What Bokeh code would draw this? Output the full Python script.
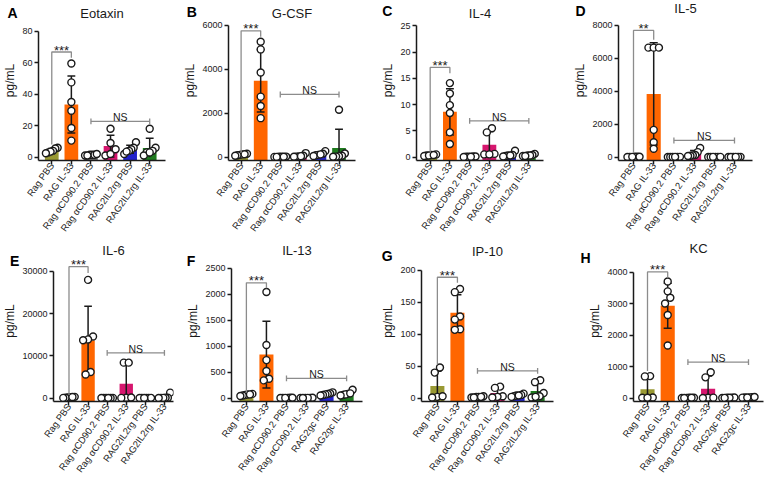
import math
import numpy as np
from bokeh.plotting import figure
from bokeh.layouts import row, column
from bokeh.models import Range1d, FixedTicker, Label, BasicTickFormatter, ColumnDataSource
from bokeh.embed import file_html
from bokeh.resources import INLINE

FONT = "Liberation Sans"
INK = "#1a1a1a"
BRACKET = "#8c8c8c"

# ---------------- data ----------------
cats_il2rg = ["Rag PBS", "RAG IL-33", "Rag \u03b1CD90.2 PBS", "Rag \u03b1CD90.2 IL-33",
              "RAG2IL2rg PBS", "RAG2IL2rg IL-33"]
cats_gc = ["Rag PBS", "RAG IL-33", "Rag \u03b1CD90.2 PBS", "Rag \u03b1CD90.2 IL-33",
           "RAG2gc PBS", "RAG2gc IL-33"]
group_colors = ["#999933", "#FF6600", "#6E6E6E", "#D6166E", "#2222CC", "#1E7A1E"]

titles = ["Eotaxin", "G-CSF", "IL-4", "IL-5", "IL-6", "IL-13", "IP-10", "KC"]
letters = ["A", "B", "C", "D", "E", "F", "G", "H"]
stars = ["***", "***", "***", "**", "***", "***", "***", "***"]

eotaxin_pts = [[6, 5.5, 4, 3, 3.5, 2.5], [59.5, 47.5, 35, 29.5, 18.5, 10.5],
               [1.5, 1.5, 1, 1.5, 1, 2], [18, 9, 1, 2, 5], [9.5, 6, 5, 4, 2, 3.5],
               [18, 6, 4, 3, 1, 3]]
eotaxin_ticks = [0, 20, 40, 60, 80]
eotaxin_sig = [8, 66.8, 63.2]
eotaxin_ns = 22.7

gcsf_pts = [[150, 100, 120, 80, 60, 130], [5250, 4900, 3850, 2750, 2325, 1770],
            [10, 5, 20, 10, 5, 15], [180, 60, 30, 20, 10, 40],
            [270, 150, 100, 80, 50, 120], [2150, 160, 60, 40, 20, 10]]
gcsf_ticks = [0, 2000, 4000, 6000]
gcsf_sig = [195, 5745, 5475]
gcsf_ns = 2850

il4_pts = [[0.4, 0.3, 0.5, 0.2, 0.3, 0.4], [14.1, 12.1, 9.9, 8.4, 4.7, 2.5],
           [0.05, 0.1, 0.05, 0.1, 0.02, 0.05], [5.5, 4.7, 0.6, 0.5, 0.5],
           [1.2, 0.3, 0.2, 0.1, 0.4, 0.3], [0.6, 0.3, 0.2, 0.4, 0.3, 0.2]]
il4_ticks = [0, 5, 10, 15, 20, 25]
il4_sig = [0.8, 17.1, 16.0]
il4_ns = 6.9

il5_pts = [[20, 10, 15, 5, 10, 20], [6650, 6650, 6650, 1650, 900, 500],
           [5, 10, 5, 10, 5, 8], [550, 300, 120, 100, 80, 60],
           [10, 5, 8, 5, 10, 6], [10, 5, 8, 6, 5, 7]]
il5_ticks = [0, 2000, 4000, 6000, 8000]
il5_sig = [242, 7698, 7134]
il5_ns = 1008

il6_pts = [[300, 200, 150, 100, 250, 50], [28000, 14600, 13900, 13700, 6200, 5600],
           [50, 30, 20, 40, 10, 30], [8400, 8400, 100, 150, 50],
           [50, 30, 40, 20, 60, 30], [1300, 100, 50, 80, 60, 40]]
il6_ticks = [0, 10000, 20000, 30000]
il6_sig = [760, 31139, 29620]
il6_ns = 10709

il13_pts = [[80, 70, 60, 50, 40, 70], [2040, 1020, 730, 520, 370, 340],
            [5, 3, 2, 4, 5, 3], [3, 2, 4, 5, 3, 2],
            [110, 90, 80, 70, 60, 50], [160, 80, 60, 70, 50, 90]]
il13_ticks = [0, 500, 1000, 1500, 2000, 2500]
il13_sig = [107, 2217, 2110]
il13_ns = 378

ip10_pts = [[48, 40, 2, 3, 1], [171, 166, 128, 123, 108, 107],
            [2, 1, 3, 2, 1, 2], [18, 16, 3, 2, 1],
            [7, 5, 4, 3, 2, 4], [28, 25, 8, 3, 1, 2]]
ip10_ticks = [0, 50, 100, 150, 200]
ip10_sig = [52.8, 189.4, 180.9]
ip10_ns = 42.7

kc_pts = [[700, 690, 20, 10, 10], [3706, 3392, 3190, 3008, 2643, 1671],
          [10, 5, 8, 12, 6, 10], [820, 660, 10, 15, 5],
          [15, 10, 20, 5, 12, 8], [30, 20, 25, 35, 15, 20]]
kc_ticks = [0, 1000, 2000, 3000, 4000]
kc_sig = [861, 4010, 3828]
kc_ns = 1144

panel_cats = [cats_il2rg, cats_il2rg, cats_il2rg, cats_il2rg,
              cats_il2rg, cats_gc, cats_il2rg, cats_gc]
panel_pts = [eotaxin_pts, gcsf_pts, il4_pts, il5_pts, il6_pts, il13_pts, ip10_pts, kc_pts]
panel_ticks = [eotaxin_ticks, gcsf_ticks, il4_ticks, il5_ticks,
               il6_ticks, il13_ticks, ip10_ticks, kc_ticks]
panel_sig = [eotaxin_sig, gcsf_sig, il4_sig, il5_sig, il6_sig, il13_sig, ip10_sig, kc_sig]
panel_ns = [eotaxin_ns, gcsf_ns, il4_ns, il5_ns, il6_ns, il13_ns, ip10_ns, kc_ns]

# ---------------- layout geometry (pixels, figure-local) ----------------
H = 240
GEOM = [
    dict(w=180, left=34, right=15, zero=163, atop=32, first=13.7, lx=2, ly=5, ty=6, side="right"),
    dict(w=198, left=44, right=23, zero=158, atop=25, first=13.0, lx=1, ly=4, ty=6, side="right"),
    dict(w=190, left=35, right=25, zero=158, atop=25.7, first=14.0, lx=0, ly=2.5, ty=6, side="right"),
    dict(w=196, left=50, right=12, zero=157, atop=25, first=15.0, lx=7, ly=2.5, ty=0, side="right"),
    dict(w=183, left=46, right=10, zero=163, atop=32, first=16.4, lx=0, ly=12.5, ty=3, side="right"),
    dict(w=195, left=47, right=16, zero=160, atop=28, first=15.0, lx=2, ly=12.5, ty=3, side="right"),
    dict(w=190, left=42, right=15, zero=163, atop=31, first=16.0, lx=2, ly=7.5, ty=4, side="right"),
    dict(w=196, left=65, right=1, zero=164, atop=33, first=14.0, lx=12, ly=9.5, ty=0, side="left"),
]
PAD = 3.5      # px between the zero line and the frame bottom (keeps dots at 0 whole)
SPACING = 20.2  # px between category centres
LABEL_ANGLE = 0.95  # radians for the category labels


def spread_offsets(vals, ppu):
    """Horizontal offsets so that overlapping points fan out (layout only)."""
    order = sorted(range(len(vals)), key=lambda i: vals[i])
    offs = [0.0] * len(vals)
    clusters = []
    for i in order:
        if clusters and (vals[i] - vals[clusters[-1][-1]]) * ppu < 6:
            clusters[-1].append(i)
        else:
            clusters.append([i])
    for cl in clusters:
        k = len(cl)
        if k == 1:
            continue
        w = min(0.3, 0.13 * (k - 1))
        for j, i in enumerate(cl):
            offs[i] = -w + 2 * w * j / (k - 1)
    return offs


def style_axis(ax):
    ax.major_label_text_font = FONT
    ax.major_label_text_color = INK
    ax.major_tick_out = 4
    ax.major_tick_in = 0
    ax.minor_tick_out = 0
    ax.minor_tick_in = 0
    ax.axis_line_width = 1.5
    ax.axis_line_color = INK
    ax.major_tick_line_width = 1.5
    ax.major_tick_line_color = INK


def make_panel(k):
    g = GEOM[k]
    cats = panel_cats[k]
    pts = panel_pts[k]
    ticks = panel_ticks[k]
    top = ticks[-1]
    zero = g["zero"]
    fb = zero + PAD
    ppu = (zero - g["atop"]) / top
    y0 = -PAD / ppu
    y1 = top + g["atop"] / ppu
    fw = g["w"] - g["left"] - g["right"]
    x0 = -g["first"] / SPACING
    x1 = x0 + fw / SPACING

    p = figure(width=g["w"], height=H, x_range=Range1d(x0, x1), y_range=Range1d(y0, y1),
               output_backend="svg", toolbar_location=None,
               min_border_left=g["left"], min_border_right=g["right"],
               min_border_top=0, min_border_bottom=int(round(H - fb)))
    p.outline_line_color = None
    p.xgrid.visible = False
    p.ygrid.visible = False
    p.background_fill_color = "white"
    p.border_fill_color = "white"

    ya = p.yaxis[0]
    style_axis(ya)
    ya.ticker = FixedTicker(ticks=ticks, minor_ticks=[])
    ya.bounds = (y0, top)
    ya.formatter = BasicTickFormatter(use_scientific=False)
    ya.axis_label = "pg/mL"
    ya.axis_label_text_font = FONT
    ya.axis_label_text_font_size = "12px"
    ya.axis_label_text_font_style = "normal"
    ya.axis_label_text_color = INK
    ya.axis_label_standoff = 2
    ya.major_label_text_font_size = "9px"
    ya.major_label_standoff = 2

    xa = p.xaxis[0]
    style_axis(xa)
    xa.ticker = FixedTicker(ticks=list(range(len(cats))), minor_ticks=[])
    xa.major_label_overrides = {i: c for i, c in enumerate(cats)}
    xa.major_label_orientation = LABEL_ANGLE
    xa.major_label_text_font_size = "9.5px"
    xa.major_label_standoff = -1

    n = len(cats)
    idx = list(range(n))
    means = [float(np.mean(v)) for v in pts]
    sds = [float(np.std(v, ddof=1)) for v in pts]
    his = [m + s for m, s in zip(means, sds)]
    los = [max(0.0, m - s) for m, s in zip(means, sds)]
    src = ColumnDataSource(dict(x=idx, top=means, color=group_colors[:n], hi=his, lo=los,
                                cl=[i - 0.2 for i in idx], cr=[i + 0.2 for i in idx]))
    p.vbar(x="x", top="top", bottom=y0, width=0.7, fill_color="color", line_color=None, source=src)
    p.segment(x0="x", y0="lo", x1="x", y1="hi", line_color=INK, line_width=1.5, source=src)
    p.segment(x0="cl", y0="hi", x1="cr", y1="hi", line_color=INK, line_width=1.5, source=src)
    low_i = [i for i in idx if means[i] - sds[i] > 0]
    p.segment(x0=[i - 0.2 for i in low_i], y0=[los[i] for i in low_i],
              x1=[i + 0.2 for i in low_i], y1=[los[i] for i in low_i],
              line_color=INK, line_width=1.5)

    px, py = [], []
    for i, v in enumerate(pts):
        offs = spread_offsets(v, ppu)
        px += [i + o for o in offs]
        py += list(v)
    p.scatter(px, py, size=7, fill_color="white", line_color=INK, line_width=1.4)

    yl, yt, yr = panel_sig[k]
    p.multi_line(xs=[[0, 0, 1, 1]], ys=[[yl, yt, yt, yr]], line_color=BRACKET, line_width=1.3)
    p.add_layout(Label(x=0.5, y=yt, text=stars[k], text_align="center", text_baseline="alphabetic",
                       y_offset=2, text_font=FONT, text_font_size="13px", text_color=INK))

    ns = panel_ns[k]
    t = 3 / ppu
    p.multi_line(xs=[[2, 5], [2, 2], [5, 5]], ys=[[ns, ns], [ns - t, ns + t], [ns - t, ns + t]],
                 line_color=BRACKET, line_width=1.3)
    p.add_layout(Label(x=3.5, y=ns, text="NS", text_align="center", text_baseline="alphabetic",
                       y_offset=4, text_font=FONT, text_font_size="10.5px", text_color=INK))

    # panel title, inside the frame at its top
    p.add_layout(Label(x=(x0 + x1) / 2, y=y1 - g["ty"] / ppu, text=titles[k], text_align="center",
                       text_baseline="top", text_font=FONT, text_font_size="13px",
                       text_color=INK))

    # panel letter: kept in a side panel so it is not clipped to the frame
    lx = x0 + (g["lx"] - g["left"]) / SPACING
    ly = y1 - g["ly"] / ppu
    p.add_layout(Label(x=lx, y=ly, text=letters[k], text_align="left", text_baseline="top",
                       text_font=FONT, text_font_size="14px", text_font_style="bold",
                       text_color="#000000"), g["side"])
    return p


figs = [make_panel(k) for k in range(8)]
layout = column(row(*figs[:4]), row(*figs[4:]))

open("out.html", "w").write(file_html(layout, INLINE, "Cytokines"))
